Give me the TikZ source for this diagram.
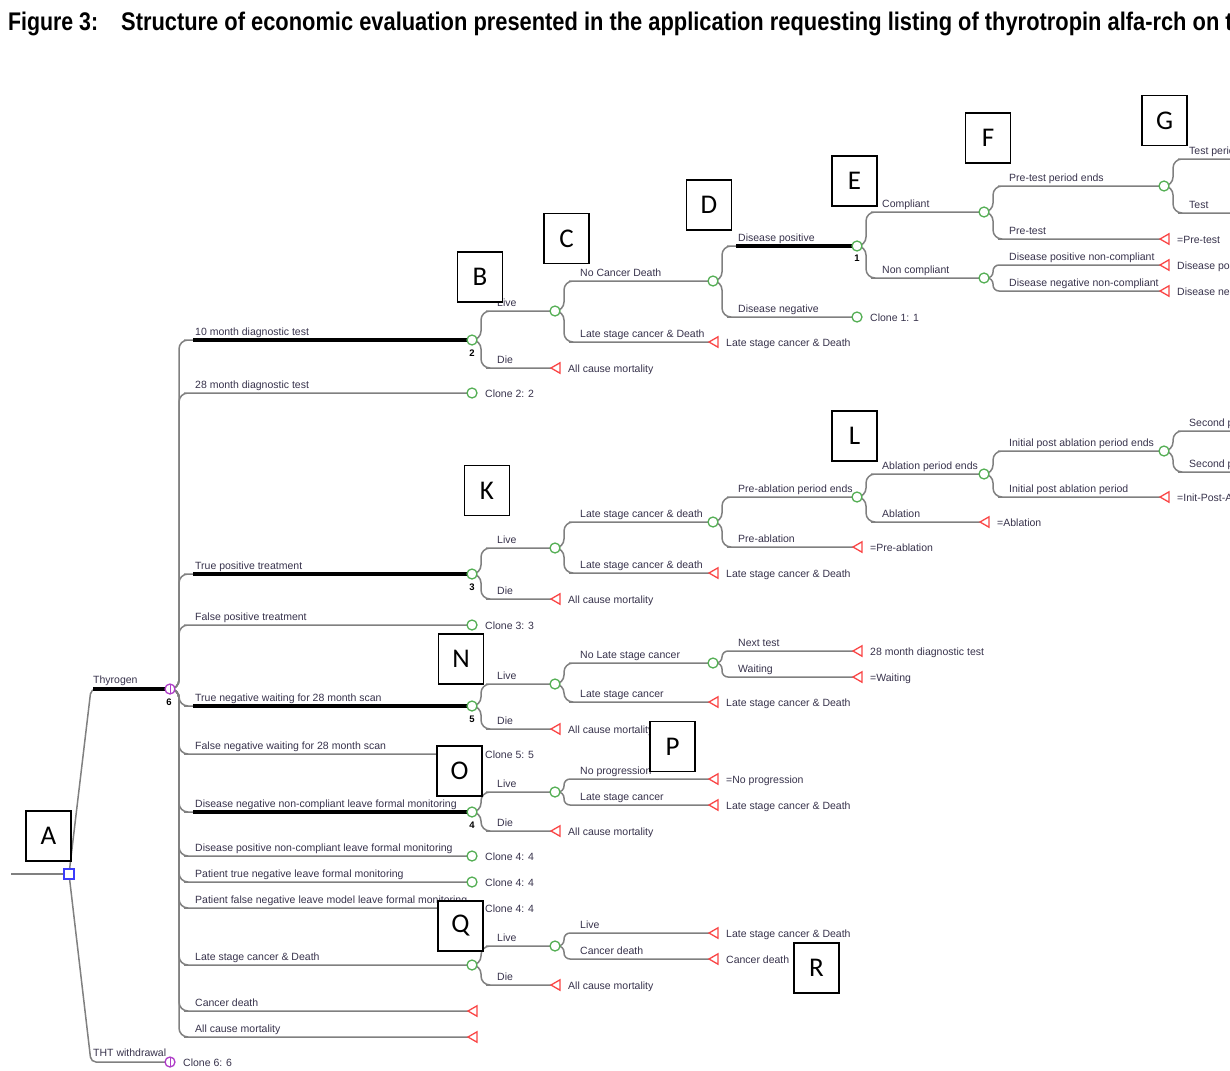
\documentclass[tikz,border=0pt]{standalone}
\usepackage{graphicx}
\usepackage{fontspec}
\setmainfont{Liberation Sans}
\newfontfamily\boxfont{Carlito}
\usetikzlibrary{calc,backgrounds,shapes.geometric}
\definecolor{lgray}{RGB}{128,128,128}
\definecolor{cgreen}{RGB}{85,175,85}
\definecolor{tred}{RGB}{250,70,70}
\definecolor{cpurple}{RGB}{175,60,200}
\definecolor{dblue}{RGB}{60,60,250}
\definecolor{ltext}{RGB}{55,50,75}
\tikzset{
 conn/.style={draw=lgray, line width=1.5pt},
 thickbr/.style={draw=black, line width=4.2pt},
 chance/.style={circle, draw=cgreen, fill=white, line width=1.3pt, minimum size=10pt, inner sep=0pt},
 clonem/.style={circle, draw=cpurple, fill=white, line width=1.3pt, minimum size=10pt, inner sep=0pt,
   path picture={\draw[cpurple,line width=1pt] (path picture bounding box.north) -- (path picture bounding box.south);}},
 termn/.style={regular polygon, regular polygon sides=3, shape border rotate=90, draw=tred, fill=white,
   line width=1.3pt, minimum size=12pt, inner sep=0pt, xshift=2pt},
 decis/.style={rectangle, draw=dblue, fill=white, line width=1.3pt, minimum size=10pt, inner sep=0pt},
 lbl/.style={anchor=base west, inner sep=0pt, text=ltext, font=\fontsize{10.5}{12}\selectfont},
 ttxt/.style={anchor=base west, inner sep=0pt, text=ltext, font=\fontsize{10.5}{12}\selectfont},
 num/.style={inner sep=0pt, font=\bfseries\fontsize{9.5}{10}\selectfont},
 letterbox/.style={draw=black, fill=white, line width=1.6pt, inner sep=0pt, minimum width=45pt,
   minimum height=50pt, font=\boxfont\fontsize{27}{30}\selectfont},
}
\newcommand\tbr[4][9]{%
 \draw[conn, rounded corners=#1pt] (#2.center) -- ($(#2.center)+(9,0)$) |- ($(#3 -| #2)+(23,0)$) -- (#3.center);
 \node[lbl] at ($(#3 -| #2)+(25,-5)$) {#4};}
\newcommand\tbrk[4][9]{%
 \tbr[#1]{#2}{#3}{#4}%
 \draw[thickbr] ($(#3 -| #2)+(23,0)$) -- (#3.center);}
\begin{document}
\begin{tikzpicture}[x=1pt,y=-1pt]
\useasboundingbox (0,0) rectangle (1230,1070);
\clip (0,0) rectangle (1230,1070);
% title
\node[anchor=base west, inner sep=0pt] (title1) at (8,31)
  {\fontsize{25.5}{28}\selectfont\bfseries\resizebox{90pt}{\height}{Figure 3:}};
\node[anchor=base west, inner sep=0pt] (title2) at (121,31)
  {\fontsize{25.5}{28}\selectfont\bfseries\resizebox{1137pt}{\height}{Structure of economic evaluation presented in the application requesting listing of thyrotropin alfa-rch on the}};
% nodes
\coordinate (r0) at (11,874);
\node[decis] (dA) at (69,874) {};
\node[clonem] (tg) at (170,689) {};
\node[clonem] (tht) at (170,1062) {};
\node[chance] (n2) at (472,340) {};
\node[chance] (c22) at (472,393) {};
\node[chance] (n3) at (472,574) {};
\node[chance] (c33) at (472,625) {};
\node[chance] (n5) at (472,706) {};
\node[chance] (c55) at (472,754) {};
\node[chance] (n4) at (472,812) {};
\node[chance] (c44a) at (472,856) {};
\node[chance] (c44b) at (472,882) {};
\node[chance] (c44c) at (472,908) {};
\node[chance] (nq) at (472,965) {};
\node[termn] (t1) at (472,1011) {};
\node[termn] (t2) at (472,1037) {};
\node[chance] (n2l) at (555,311) {};
\node[termn] (t3) at (555,368) {};
\node[chance] (nncd) at (713,281) {};
\node[termn] (t4) at (713,342) {};
\node[chance] (n1) at (857,246) {};
\node[chance] (c11) at (857,317) {};
\node[chance] (ncomp) at (984,212) {};
\node[chance] (nnon) at (984,278) {};
\node[chance] (npte) at (1164,186) {};
\node[termn] (t5) at (1164,239) {};
\node[termn] (t6) at (1164,265) {};
\node[termn] (t7) at (1164,291) {};
\coordinate (g1) at (1260,159);
\coordinate (g2) at (1260,213);
\node[chance] (n3l) at (555,548) {};
\node[termn] (t8) at (555,599) {};
\node[chance] (nlsc) at (713,522) {};
\node[termn] (t9) at (713,573) {};
\node[chance] (npae) at (857,497) {};
\node[termn] (t10) at (857,547) {};
\node[chance] (nape) at (984,474) {};
\node[termn] (t11) at (984,522) {};
\node[chance] (nipe) at (1164,451) {};
\node[termn] (t12) at (1164,497) {};
\coordinate (l1) at (1260,431);
\coordinate (l2) at (1260,472);
\node[chance] (n5l) at (555,684) {};
\node[termn] (t13) at (555,729) {};
\node[chance] (nnl) at (713,663) {};
\node[termn] (t14) at (713,702) {};
\node[termn] (t15) at (857,651) {};
\node[termn] (t16) at (857,677) {};
\node[chance] (n4l) at (555,792) {};
\node[termn] (t17) at (555,831) {};
\node[termn] (t18) at (713,779) {};
\node[termn] (t19) at (713,805) {};
\node[chance] (nql) at (555,946) {};
\node[termn] (t20) at (555,985) {};
\node[termn] (t21) at (713,933) {};
\node[termn] (t22) at (713,959) {};
% connectors
\begin{scope}[on background layer]
\draw[conn] (r0) -- (dA.center);
\draw[conn, rounded corners=5pt] (dA.center) -- ($(tg -| dA)+(22,0)$) -- (tg.center);
\draw[thickbr] ($(tg -| dA)+(24,0)$) -- (tg.center);
\node[lbl] at ($(tg -| dA)+(24,-6)$) {Thyrogen};
\draw[conn, rounded corners=5pt] (dA.center) -- ($(tht -| dA)+(22,0)$) -- (tht.center);
\node[lbl] at ($(tht -| dA)+(24,-6)$) {THT withdrawal};
\tbrk{tg}{n2}{10 month diagnostic test}
\tbr{tg}{c22}{28 month diagnostic test}
\tbrk{tg}{n3}{True positive treatment}
\tbr{tg}{c33}{False positive treatment}
\tbrk{tg}{n5}{True negative waiting for 28 month scan}
\tbr{tg}{c55}{False negative waiting for 28 month scan}
\tbrk{tg}{n4}{Disease negative non-compliant leave formal monitoring}
\tbr{tg}{c44a}{Disease positive non-compliant leave formal monitoring}
\tbr{tg}{c44b}{Patient true negative leave formal monitoring}
\tbr{tg}{c44c}{Patient false negative leave model leave formal monitoring}
\tbr{tg}{nq}{Late stage cancer \& Death}
\tbr{tg}{t1}{Cancer death}
\tbr{tg}{t2}{All cause mortality}
\tbr{n2}{n2l}{Live}
\tbr{n2}{t3}{Die}
\tbr{n2l}{nncd}{No Cancer Death}
\tbr{n2l}{t4}{Late stage cancer \& Death}
\tbrk{nncd}{n1}{Disease positive}
\tbr{nncd}{c11}{Disease negative}
\tbr{n1}{ncomp}{Compliant}
\tbr{n1}{nnon}{Non compliant}
\tbr{ncomp}{npte}{Pre-test period ends}
\tbr{ncomp}{t5}{Pre-test}
\tbr[6]{nnon}{t6}{Disease positive non-compliant}
\tbr[6]{nnon}{t7}{Disease negative non-compliant}
\tbr{npte}{g1}{Test period ends}
\tbr{npte}{g2}{Test}
\tbr{n3}{n3l}{Live}
\tbr{n3}{t8}{Die}
\tbr{n3l}{nlsc}{Late stage cancer \& death}
\tbr{n3l}{t9}{Late stage cancer \& death}
\tbr{nlsc}{npae}{Pre-ablation period ends}
\tbr{nlsc}{t10}{Pre-ablation}
\tbr{npae}{nape}{Ablation period ends}
\tbr{npae}{t11}{Ablation}
\tbr{nape}{nipe}{Initial post ablation period ends}
\tbr{nape}{t12}{Initial post ablation period}
\tbr{nipe}{l1}{Second period ends}
\tbr{nipe}{l2}{Second period}
\tbr{n5}{n5l}{Live}
\tbr{n5}{t13}{Die}
\tbr{n5l}{nnl}{No Late stage cancer}
\tbr{n5l}{t14}{Late stage cancer}
\tbr[6]{nnl}{t15}{Next test}
\tbr[6]{nnl}{t16}{Waiting}
\tbr{n4}{n4l}{Live}
\tbr{n4}{t17}{Die}
\tbr[6]{n4l}{t18}{No progression}
\tbr[6]{n4l}{t19}{Late stage cancer}
\tbr{nq}{nql}{Live}
\tbr{nq}{t20}{Die}
\tbr[6]{nql}{t21}{Live}
\tbr[6]{nql}{t22}{Cancer death}
\end{scope}
% node numbers
\node[num] (k6) at ($(tg)+(-1,13)$) {6};
\node[num] (k2) at ($(n2)+(0,13)$) {2};
\node[num] (k3) at ($(n3)+(0,13)$) {3};
\node[num] (k5) at ($(n5)+(0,13)$) {5};
\node[num] (k4) at ($(n4)+(0,13)$) {4};
\node[num] (k1) at ($(n1)+(0,12)$) {1};
% clone texts
\node[ttxt] (x6) at ($(tht)+(13,4)$) {Clone 6: 6};
\node[ttxt] (x2) at ($(c22)+(13,4)$) {Clone 2: 2};
\node[ttxt] (x3) at ($(c33)+(13,4)$) {Clone 3: 3};
\node[ttxt] (x5) at ($(c55)+(13,4)$) {Clone 5: 5};
\node[ttxt] (x4a) at ($(c44a)+(13,4)$) {Clone 4: 4};
\node[ttxt] (x4b) at ($(c44b)+(13,4)$) {Clone 4: 4};
\node[ttxt] (x4c) at ($(c44c)+(13,4)$) {Clone 4: 4};
\node[ttxt] (x1) at ($(c11)+(13,4)$) {Clone 1: 1};
% terminal texts
\node[ttxt] (y3) at ($(t3)+(11,4)$) {All cause mortality};
\node[ttxt] (y4) at ($(t4)+(11,4)$) {Late stage cancer \& Death};
\node[ttxt] (y5) at ($(t5)+(11,4)$) {=Pre-test};
\node[ttxt] (y6) at ($(t6)+(11,4)$) {Disease positive non-compliant};
\node[ttxt] (y7) at ($(t7)+(11,4)$) {Disease negative non-compliant};
\node[ttxt] (y8) at ($(t8)+(11,4)$) {All cause mortality};
\node[ttxt] (y9) at ($(t9)+(11,4)$) {Late stage cancer \& Death};
\node[ttxt] (y10) at ($(t10)+(11,4)$) {=Pre-ablation};
\node[ttxt] (y11) at ($(t11)+(11,4)$) {=Ablation};
\node[ttxt] (y12) at ($(t12)+(11,4)$) {=Init-Post-Ablation};
\node[ttxt] (y13) at ($(t13)+(11,4)$) {All cause mortality};
\node[ttxt] (y14) at ($(t14)+(11,4)$) {Late stage cancer \& Death};
\node[ttxt] (y15) at ($(t15)+(11,4)$) {28 month diagnostic test};
\node[ttxt] (y16) at ($(t16)+(11,4)$) {=Waiting};
\node[ttxt] (y17) at ($(t17)+(11,4)$) {All cause mortality};
\node[ttxt] (y18) at ($(t18)+(11,4)$) {=No progression};
\node[ttxt] (y19) at ($(t19)+(11,4)$) {Late stage cancer \& Death};
\node[ttxt] (y20) at ($(t20)+(11,4)$) {All cause mortality};
\node[ttxt] (y21) at ($(t21)+(11,4)$) {Late stage cancer \& Death};
\node[ttxt] (y22) at ($(t22)+(11,4)$) {Cancer death};
% letter boxes
\node[letterbox] (LA) at (48.5,836) {A};
\node[letterbox] (LB) at (480,277) {B};
\node[letterbox] (LC) at (566.5,238.5) {C};
\node[letterbox] (LD) at (709,205) {D};
\node[letterbox] (LE) at (854.5,181) {E};
\node[letterbox] (LF) at (988,138) {F};
\node[letterbox] (LG) at (1164.5,120.5) {G};
\node[letterbox] (LK) at (487,490.5) {K};
\node[letterbox] (LL) at (854.5,436) {L};
\node[letterbox] (LN) at (461,659) {N};
\node[letterbox] (LO) at (459.5,771) {O};
\node[letterbox] (LP) at (672.5,746.5) {P};
\node[letterbox] (LQ) at (460.5,926) {Q};
\node[letterbox] (LR) at (816.5,968) {R};
\end{tikzpicture}
\end{document}
